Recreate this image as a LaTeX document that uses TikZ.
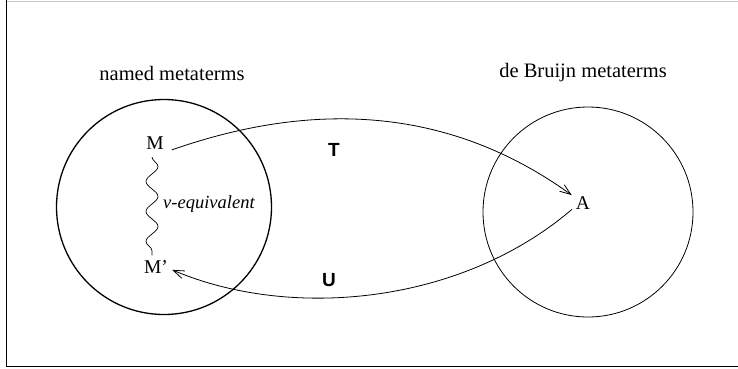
\documentclass[tikz,border=0pt]{standalone}
\usepackage{fontspec}
\setmainfont{Liberation Serif}
\newfontfamily\helv{Liberation Sans}
\usetikzlibrary{arrows.meta,decorations.pathmorphing}
\tikzset{
  lbl/.style={font=\fontsize{20.5}{24}\selectfont, inner sep=0pt},
  term/.style={font=\fontsize{19.5}{23}\selectfont, inner sep=4pt},
  fun/.style={font=\helv\bfseries\fontsize{19}{22}\selectfont, inner sep=0pt},
  conn/.style={line width=0.8pt, -{Straight Barb[length=11pt,width=8pt]}},
  wave/.style={line width=0.7pt, decorate, decoration={snake, amplitude=6pt, segment length=30pt}},
}
\begin{document}
\begin{tikzpicture}[x=1pt,y=-1pt]
\useasboundingbox (0,0) rectangle (738,368);
% frame
\draw[black!22, line width=1pt] (7,1) -- (738,1);
\draw[line width=1.4pt] (6.5,0) -- (6.5,366.3) -- (738,366.3);
% sets
\node[draw, circle, line width=1.3pt, minimum size=215pt, inner sep=0pt] (L) at (164,207) {};
\node[draw, circle, line width=0.8pt, minimum size=210pt, inner sep=0pt] (R) at (588,212) {};
\node[lbl] (nl) at (172,73) {named metaterms};
\node[lbl] (rl) at (583,73) {de Bruijn metaterms};
% terms
\node[term] (M) at (155,143.5) {M};
\node[term] (Mp) at (156,267) {M'};
\node[term] (A) at (583,203) {A};
% equivalence
\draw[wave] ([xshift=-3pt,yshift=-3pt]M.south) -- ([xshift=-4pt,yshift=1pt]Mp.north);
\node[anchor=west, inner sep=0pt, font=\itshape\fontsize{18.5}{22}\selectfont] (veq) at (163,204) {v-equivalent};
% translations
\draw[conn] ([xshift=4pt]M.base east) .. controls (300,105) and (440,100) .. (A.145);
\draw[conn] (A.210) .. controls (460,305) and (290,320) .. (Mp.-10);
\node[fun] (T) at (334,150) {T};
\node[fun] (U) at (329,280) {U};
\end{tikzpicture}
\end{document}
